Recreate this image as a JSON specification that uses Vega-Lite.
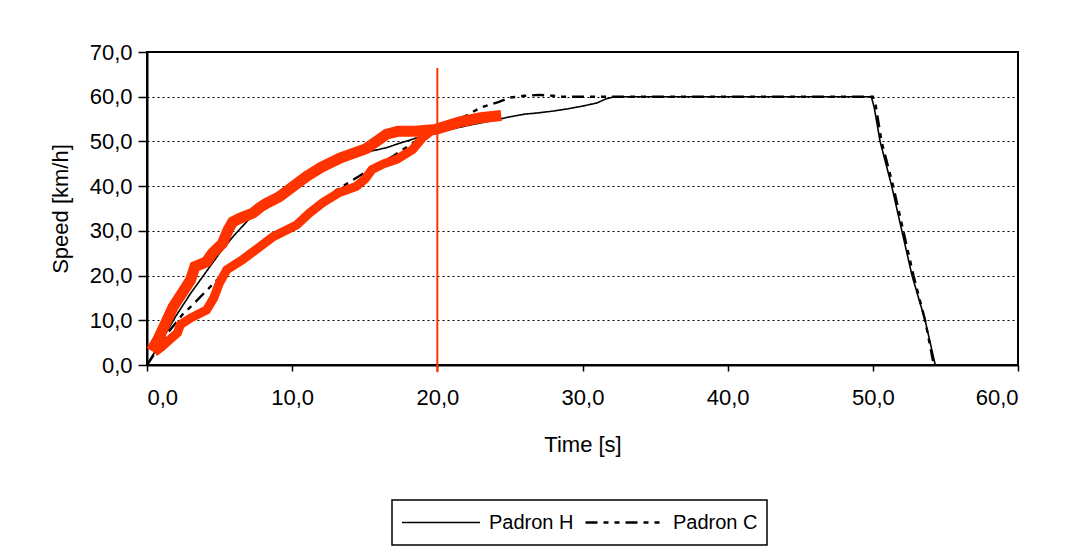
{
  "$schema": "https://vega.github.io/schema/vega-lite/v6.json",
  "width": 871,
  "height": 313,
  "autosize": {"type": "none"},
  "padding": {"left": 147, "top": 52, "right": 47, "bottom": 183},
  "background": "white",
  "config": {
    "font": "Liberation Sans",
    "view": {"stroke": "black", "strokeWidth": 2},
    "axis": {
      "labelFont": "Liberation Sans", "labelFontSize": 22, "labelColor": "black",
      "titleFont": "Liberation Sans", "titleFontSize": 22, "titleFontWeight": "normal", "titleColor": "black",
      "domainColor": "black", "domainWidth": 2, "tickColor": "black", "tickWidth": 1.5
    },
    "legend": {
      "labelFont": "Liberation Sans", "labelFontSize": 20, "labelColor": "black"
    }
  },
  "datasets": {
    "padron": [
      {"s": "Padron H", "t": 0, "v": 0}, {"s": "Padron H", "t": 1, "v": 5.5}, {"s": "Padron H", "t": 2, "v": 11},
      {"s": "Padron H", "t": 3, "v": 16}, {"s": "Padron H", "t": 4, "v": 20.5}, {"s": "Padron H", "t": 5, "v": 25},
      {"s": "Padron H", "t": 6, "v": 29}, {"s": "Padron H", "t": 7, "v": 32.5}, {"s": "Padron H", "t": 8, "v": 35.3},
      {"s": "Padron H", "t": 9, "v": 37.4}, {"s": "Padron H", "t": 10, "v": 39.3}, {"s": "Padron H", "t": 11, "v": 41.3},
      {"s": "Padron H", "t": 12, "v": 43.2}, {"s": "Padron H", "t": 13, "v": 45}, {"s": "Padron H", "t": 14, "v": 46.4},
      {"s": "Padron H", "t": 15, "v": 47.5}, {"s": "Padron H", "t": 16.5, "v": 48.6}, {"s": "Padron H", "t": 17.4, "v": 49.6},
      {"s": "Padron H", "t": 18.3, "v": 50.5}, {"s": "Padron H", "t": 19, "v": 51.3},
      {"s": "Padron H", "t": 20, "v": 52}, {"s": "Padron H", "t": 22, "v": 53.5}, {"s": "Padron H", "t": 24, "v": 54.8},
      {"s": "Padron H", "t": 25, "v": 55.5}, {"s": "Padron H", "t": 26, "v": 56.1}, {"s": "Padron H", "t": 27, "v": 56.4},
      {"s": "Padron H", "t": 28, "v": 56.8}, {"s": "Padron H", "t": 29, "v": 57.3}, {"s": "Padron H", "t": 30, "v": 57.9},
      {"s": "Padron H", "t": 31, "v": 58.6}, {"s": "Padron H", "t": 31.6, "v": 59.5}, {"s": "Padron H", "t": 32.2, "v": 60},
      {"s": "Padron H", "t": 35, "v": 60}, {"s": "Padron H", "t": 40, "v": 60}, {"s": "Padron H", "t": 45, "v": 60},
      {"s": "Padron H", "t": 49.9, "v": 60}, {"s": "Padron H", "t": 50.1, "v": 57.5}, {"s": "Padron H", "t": 50.5, "v": 50},
      {"s": "Padron H", "t": 51.3, "v": 40}, {"s": "Padron H", "t": 52, "v": 30}, {"s": "Padron H", "t": 52.7, "v": 20},
      {"s": "Padron H", "t": 53.6, "v": 10}, {"s": "Padron H", "t": 54.3, "v": 0},
      {"s": "Padron C", "t": 0, "v": 0}, {"s": "Padron C", "t": 0.7, "v": 3.4}, {"s": "Padron C", "t": 1.5, "v": 7.5},
      {"s": "Padron C", "t": 2.5, "v": 11.5}, {"s": "Padron C", "t": 3, "v": 13}, {"s": "Padron C", "t": 4, "v": 16.3},
      {"s": "Padron C", "t": 5, "v": 19.6}, {"s": "Padron C", "t": 6, "v": 22}, {"s": "Padron C", "t": 7, "v": 24},
      {"s": "Padron C", "t": 8, "v": 26.8}, {"s": "Padron C", "t": 9, "v": 29.2}, {"s": "Padron C", "t": 10, "v": 31.3},
      {"s": "Padron C", "t": 11, "v": 34}, {"s": "Padron C", "t": 12, "v": 36.6}, {"s": "Padron C", "t": 13, "v": 39},
      {"s": "Padron C", "t": 14, "v": 41}, {"s": "Padron C", "t": 15, "v": 43}, {"s": "Padron C", "t": 16, "v": 45},
      {"s": "Padron C", "t": 17, "v": 46.8}, {"s": "Padron C", "t": 18, "v": 49}, {"s": "Padron C", "t": 19, "v": 51},
      {"s": "Padron C", "t": 20, "v": 52.8}, {"s": "Padron C", "t": 21, "v": 54.3}, {"s": "Padron C", "t": 22, "v": 55.8},
      {"s": "Padron C", "t": 23, "v": 57.6}, {"s": "Padron C", "t": 24.2, "v": 58.8}, {"s": "Padron C", "t": 25, "v": 59.8},
      {"s": "Padron C", "t": 26, "v": 60.2}, {"s": "Padron C", "t": 27, "v": 60.4}, {"s": "Padron C", "t": 28, "v": 60.2},
      {"s": "Padron C", "t": 28.5, "v": 60}, {"s": "Padron C", "t": 35, "v": 60}, {"s": "Padron C", "t": 40, "v": 60},
      {"s": "Padron C", "t": 45, "v": 60}, {"s": "Padron C", "t": 50, "v": 60}, {"s": "Padron C", "t": 50.2, "v": 58},
      {"s": "Padron C", "t": 50.3, "v": 56}, {"s": "Padron C", "t": 50.6, "v": 50}, {"s": "Padron C", "t": 51.4, "v": 40},
      {"s": "Padron C", "t": 52.1, "v": 30}, {"s": "Padron C", "t": 52.8, "v": 20}, {"s": "Padron C", "t": 53.6, "v": 10},
      {"s": "Padron C", "t": 54.2, "v": 0}
    ],
    "upper": [
      {"t": 0.3, "v": 3.2}, {"t": 0.8, "v": 6}, {"t": 1.3, "v": 9.5}, {"t": 1.8, "v": 13}, {"t": 2.4, "v": 16},
      {"t": 3.0, "v": 19}, {"t": 3.3, "v": 22}, {"t": 4.1, "v": 23.1}, {"t": 4.5, "v": 25}, {"t": 5.2, "v": 27.2},
      {"t": 5.6, "v": 30.3}, {"t": 5.9, "v": 32}, {"t": 6.4, "v": 32.8}, {"t": 7.3, "v": 34}, {"t": 7.8, "v": 35.3},
      {"t": 8.2, "v": 36.1}, {"t": 9.1, "v": 37.6}, {"t": 10, "v": 39.8}, {"t": 11, "v": 42.2}, {"t": 12, "v": 44.2},
      {"t": 13.3, "v": 46.3}, {"t": 14, "v": 47.1}, {"t": 15.1, "v": 48.4}, {"t": 15.8, "v": 50}, {"t": 16.5, "v": 51.6},
      {"t": 17.3, "v": 52.3}, {"t": 18.5, "v": 52.3}, {"t": 19.9, "v": 52.7}, {"t": 21.5, "v": 54.3}, {"t": 23, "v": 55.3},
      {"t": 24.4, "v": 55.8}
    ],
    "lower": [
      {"t": 0.5, "v": 2.8}, {"t": 1.0, "v": 4.0}, {"t": 1.5, "v": 5.5}, {"t": 2.1, "v": 7.2}, {"t": 2.3, "v": 9},
      {"t": 3.0, "v": 10.5}, {"t": 4.1, "v": 12.3}, {"t": 4.6, "v": 15}, {"t": 5.0, "v": 18.4}, {"t": 5.5, "v": 21.3},
      {"t": 6.6, "v": 23.6}, {"t": 7.6, "v": 26}, {"t": 8.7, "v": 28.7}, {"t": 10.3, "v": 31.3}, {"t": 11.2, "v": 34},
      {"t": 12.1, "v": 36.3}, {"t": 13.2, "v": 38.5}, {"t": 14.4, "v": 39.9}, {"t": 15, "v": 41.5}, {"t": 15.5, "v": 43.7},
      {"t": 16.3, "v": 45}, {"t": 17.2, "v": 46}, {"t": 18.3, "v": 48.2}, {"t": 19, "v": 50.9}, {"t": 19.7, "v": 52.7}
    ],
    "marker": [{"t": 20, "v": 66.4, "v2": -1.6}]
  },
  "encoding": {
    "x": {
      "field": "t", "type": "quantitative",
      "scale": {"domain": [0, 60], "nice": false},
      "axis": {
        "title": "Time [s]", "values": [0, 10, 20, 30, 40, 50, 60], "grid": false,
        "labelExpr": "replace(format(datum.value, '.1f'), '.', ',')",
        "tickSize": 6, "labelPadding": 16, "titlePadding": 26
      }
    },
    "y": {
      "field": "v", "type": "quantitative",
      "scale": {"domain": [0, 70], "nice": false},
      "axis": {
        "title": "Speed [km/h]", "values": [0, 10, 20, 30, 40, 50, 60, 70],
        "grid": true, "gridColor": "black", "gridDash": [2, 3], "gridWidth": 1,
        "labelExpr": "replace(format(datum.value, '.1f'), '.', ',')",
        "tickSize": 9, "labelPadding": 6, "titlePadding": 17
      }
    }
  },
  "layer": [
    {
      "data": {"name": "padron"},
      "mark": {"type": "line", "color": "black"},
      "encoding": {
        "strokeWidth": {
          "field": "s", "type": "nominal",
          "scale": {"domain": ["Padron H", "Padron C"], "range": [1.6, 2.4]},
          "legend": null
        },
        "strokeDash": {
          "field": "s", "type": "nominal",
          "scale": {"domain": ["Padron H", "Padron C"], "range": [[1, 0], [12, 6, 5, 6, 5, 6]]},
          "legend": {
            "title": null, "orient": "none", "legendX": 245, "legendY": 448, "direction": "horizontal",
            "strokeColor": "black", "fillColor": "white", "padding": 9,
            "symbolType": "stroke", "symbolSize": 6084, "symbolStrokeColor": "black", "symbolStrokeWidth": 1.5,
            "clipHeight": 27, "columnPadding": 10, "labelOffset": 8, "labelFontSize": 20,
            "encode": {"legend": {"update": {"strokeWidth": {"value": 1.5}}}}
          }
        }
      }
    },
    {
      "data": {"name": "upper"},
      "mark": {"type": "line", "color": "#ff3300", "strokeWidth": 11},
      "encoding": {}
    },
    {
      "data": {"name": "lower"},
      "mark": {"type": "line", "color": "#ff3300", "strokeWidth": 9},
      "encoding": {}
    },
    {
      "data": {"name": "marker"},
      "mark": {"type": "rule", "color": "#ff3300", "strokeWidth": 2},
      "encoding": {"y2": {"field": "v2"}}
    }
  ]
}
